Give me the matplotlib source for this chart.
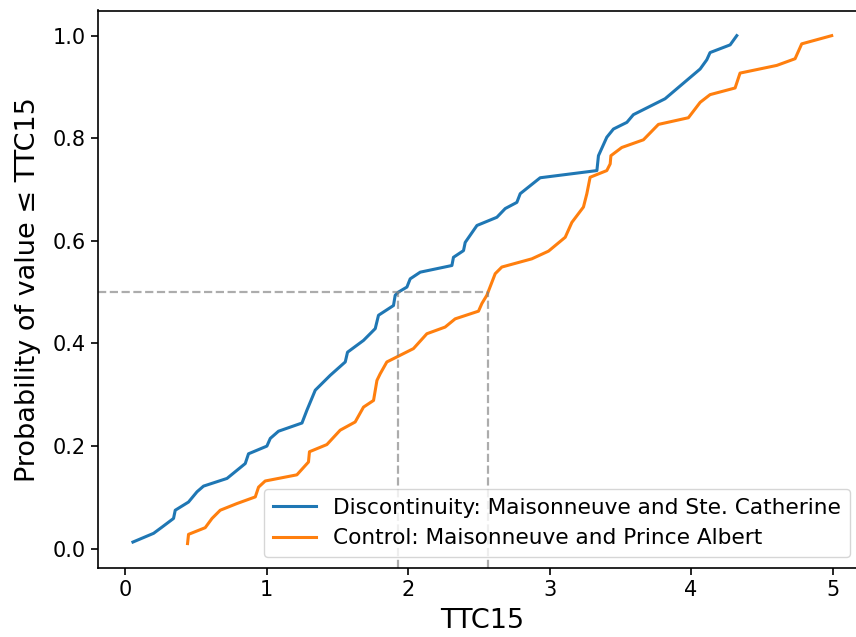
import numpy as np
import matplotlib
matplotlib.use("Agg")
import matplotlib.pyplot as plt

disc_x = [0.054, 0.200, 0.259, 0.341, 0.353, 0.447, 0.507, 0.553, 0.719, 0.848,
          0.871, 1.001, 1.025, 1.083, 1.249, 1.284, 1.343, 1.449, 1.555, 1.571,
          1.684, 1.767, 1.790, 1.896, 1.908, 1.930, 1.991, 2.014, 2.085, 2.309,
          2.320, 2.391, 2.403, 2.486, 2.627, 2.686, 2.768, 2.792, 2.933, 3.334,
          3.345, 3.404, 3.451, 3.546, 3.592, 3.816, 4.064, 4.111, 4.134, 4.276,
          4.323]
disc_y = [0.013, 0.030, 0.042, 0.059, 0.075, 0.091, 0.111, 0.122, 0.137, 0.166,
          0.185, 0.200, 0.215, 0.229, 0.245, 0.270, 0.309, 0.338, 0.364, 0.383,
          0.406, 0.429, 0.455, 0.474, 0.494, 0.500, 0.510, 0.526, 0.539, 0.552,
          0.568, 0.581, 0.597, 0.630, 0.646, 0.663, 0.675, 0.692, 0.723, 0.737,
          0.766, 0.802, 0.818, 0.831, 0.846, 0.877, 0.935, 0.953, 0.967, 0.982,
          1.000]

ctrl_x = [0.440, 0.447, 0.565, 0.613, 0.671, 0.789, 0.919, 0.942, 0.989, 1.213,
          1.295, 1.302, 1.425, 1.519, 1.625, 1.684, 1.755, 1.779, 1.802, 1.849,
          2.037, 2.132, 2.261, 2.332, 2.497, 2.521, 2.556, 2.615, 2.662, 2.874,
          2.992, 3.110, 3.157, 3.239, 3.263, 3.286, 3.404, 3.428, 3.433, 3.510,
          3.663, 3.769, 3.981, 4.064, 4.134, 4.311, 4.346, 4.606, 4.735, 4.782,
          4.994]
ctrl_y = [0.010, 0.028, 0.041, 0.059, 0.075, 0.088, 0.101, 0.120, 0.132, 0.144,
          0.169, 0.189, 0.203, 0.231, 0.247, 0.276, 0.289, 0.328, 0.341, 0.364,
          0.390, 0.419, 0.432, 0.448, 0.463, 0.478, 0.494, 0.536, 0.549, 0.565,
          0.580, 0.607, 0.636, 0.666, 0.692, 0.724, 0.737, 0.750, 0.766, 0.782,
          0.797, 0.827, 0.840, 0.870, 0.885, 0.898, 0.927, 0.942, 0.955, 0.984,
          1.000]

disc_median = 1.925
ctrl_median = 2.567
labels = ["Discontinuity: Maisonneuve and Ste. Catherine",
          "Control: Maisonneuve and Prince Albert"]

W, H = 856, 637
fig = plt.figure(figsize=(W / 100, H / 100), dpi=100)
# right part of the axes runs past the image edge, as in the cropped original
ax = fig.add_axes([98 / W, 1 - 567.7 / H, (866.5 - 98) / W, (567.7 - 10.5) / H])

xmin, xmax = -0.193, 5.24
ymin, ymax = -0.037, 1.049

ax.plot(disc_x, disc_y, color="#1f77b4", lw=2.2, label=labels[0])
ax.plot(ctrl_x, ctrl_y, color="#ff7f0e", lw=2.2, label=labels[1])

ax.hlines(0.5, xmin, ctrl_median, colors="gray", linestyles="--", lw=1.6, alpha=0.65)
ax.vlines([disc_median, ctrl_median], ymin, 0.5, colors="gray", linestyles="--", lw=1.6, alpha=0.65)

ax.set_xlim(xmin, xmax)
ax.set_ylim(ymin, ymax)
ax.set_xticks([0, 1, 2, 3, 4, 5])
ax.set_yticks([0.0, 0.2, 0.4, 0.6, 0.8, 1.0])
ax.tick_params(labelsize=15, length=5.3, width=1.2)
for s in ax.spines.values():
    s.set_linewidth(1.2)
ax.spines["right"].set_visible(False)

ax.set_xlabel("TTC15", fontsize=19.5, labelpad=6)
ax.set_ylabel("Probability of value ≤ TTC15", fontsize=19.5, labelpad=8)

ax.legend(loc="lower right", bbox_to_anchor=(0.9785, 0.019), borderaxespad=0,
          fontsize=15.6, handlelength=2.0)

fig.savefig("out.png", dpi=100)
